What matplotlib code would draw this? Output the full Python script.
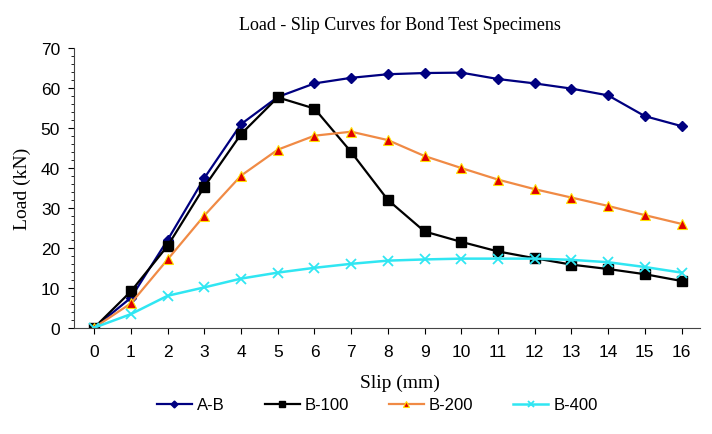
import matplotlib.pyplot as plt
from matplotlib.ticker import MultipleLocator

slip = list(range(17))
load_ab = [0, 7.5, 22, 37.5, 51, 57.8, 61.2, 62.6, 63.5, 63.8, 63.9, 62.3, 61.2, 59.9, 58.2, 53, 50.5]
load_b100 = [0, 9.1, 20.5, 35.3, 48.5, 57.7, 54.9, 44, 32, 24.1, 21.5, 19.1, 17.4, 15.8, 14.7, 13.4, 11.7]
load_b200 = [0, 6.1, 17.1, 28.1, 38.1, 44.6, 48.1, 49.1, 47, 43, 40, 37.1, 34.7, 32.6, 30.5, 28.2, 26]
load_b400 = [0, 3.4, 8, 10.1, 12.3, 13.8, 15, 16, 16.8, 17.1, 17.3, 17.3, 17.3, 17, 16.4, 15.2, 13.8]

serif = "Liberation Serif"
sans = "Liberation Sans"

fig = plt.figure(figsize=(7.12, 4.35), dpi=100)
ax = fig.add_axes([0.104, 0.2444, 0.879, 0.6423])

ax.plot(slip, load_ab, color="#000080", lw=1.6, marker="D", ms=5, label="A-B")
ax.plot(slip, load_b100, color="black", lw=1.6, marker="s", ms=7, label="B-100")
ax.plot(slip, load_b200, color="#F08A45", lw=1.6, marker="^", ms=6.5,
        markerfacecolor="#E00000", markeredgecolor="#FFE000", markeredgewidth=0.8, label="B-200")
ax.plot(slip, load_b400, color="#30E6F2", lw=1.8, marker="x", ms=7, mew=1.3, label="B-400")

ax.set_xlim(-0.55, 16.5)
ax.set_ylim(0, 70)
ax.set_xticks(slip)
ax.yaxis.set_major_locator(MultipleLocator(10))
ax.yaxis.set_minor_locator(MultipleLocator(2))
ax.tick_params(axis="both", direction="out", length=4, width=0.8, labelsize=12.5)
ax.tick_params(axis="x", pad=8)
ax.tick_params(axis="y", pad=6)
ax.tick_params(axis="y", which="minor", length=2.5, width=0.6)
for lbl in ax.get_xticklabels() + ax.get_yticklabels():
    lbl.set_family(sans)

for s in ["top", "right"]:
    ax.spines[s].set_visible(False)
for s in ["left", "bottom"]:
    ax.spines[s].set_color("#444444")

ax.set_title("Load - Slip Curves for Bond Test Specimens", family=serif, fontsize=13,
             pad=14, x=0.52)
ax.set_xlabel("Slip (mm)", family=serif, fontsize=14, labelpad=10, x=0.52)
ax.set_ylabel("Load (kN)", family=serif, fontsize=14, labelpad=7)

fig.legend(loc="center", bbox_to_anchor=(0.53, 0.067), ncol=4, frameon=False,
           prop={"family": sans, "size": 12}, handlelength=2.1, columnspacing=2.4,
           handletextpad=0.3, markerscale=0.7)

fig.savefig("out.png", dpi=100)
